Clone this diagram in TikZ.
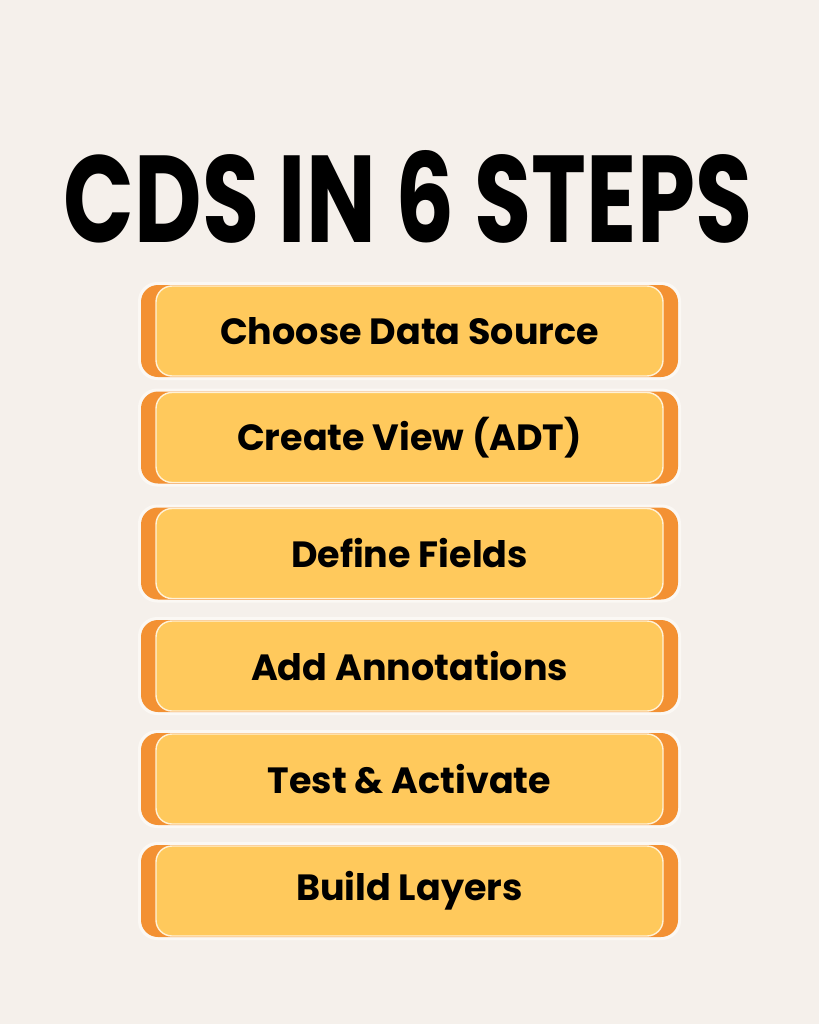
\documentclass[tikz,border=0pt]{standalone}
\usepackage{fontspec}
\setmainfont{Poppins}[BoldFont={* Bold}]
\usepackage{graphicx}
\definecolor{bg_cream}{HTML}{F5F0EB}
\definecolor{halo_cream}{HTML}{FBF8F4}
\definecolor{step_orange}{HTML}{F39133}
\definecolor{step_yellow}{HTML}{FFC95C}
\definecolor{edge_light}{HTML}{FFF2D8}

\tikzset{
  stepbox/.style={fill=step_yellow, draw=edge_light, line width=1.4pt, rounded corners=16pt,
    minimum width=507pt, minimum height=90pt, inner sep=0pt,
    font=\fontsize{36.5}{40}\selectfont\bfseries, text=black},
}

\begin{document}
\begin{tikzpicture}[x=1pt,y=-1pt]
        % Fond
        \fill[bg_cream] (0,0) rectangle (819,1024);
        % Titre
        \node[inner sep=0pt] (title) at (408,197) {\resizebox{688pt}{92pt}{\bfseries CDS IN 6 STEPS}};
        % Etapes
        \foreach \y/\txt [count=\i] in {331/Choose Data Source, 437.5/Create View (ADT), 553.5/Define Fields, 666/Add Annotations, 779/Test \& Activate, 891/Build Layers}
        {
            \fill[halo_cream, rounded corners=19pt] (138,\y-49) rectangle (681,\y+49);
            \fill[step_orange, rounded corners=17pt] (141,\y-46) rectangle (678,\y+46);
            \node[stepbox] (step\i) at (409.5,\y) {\txt};
        }
    \end{tikzpicture}
\end{document}
